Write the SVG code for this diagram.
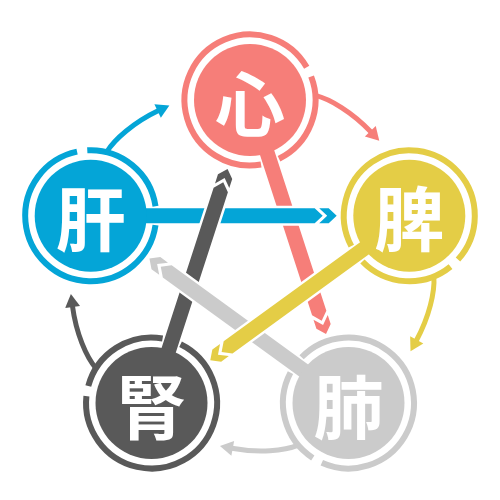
<svg xmlns="http://www.w3.org/2000/svg" width="500" height="500" viewBox="0 0 500 500">
<style>
.ring{fill:none;stroke-width:6}
.cv{fill:none;stroke-width:5}
.bar{stroke:#fff;stroke-width:5;stroke-linejoin:miter;paint-order:stroke}
.lbl{font-family:"Noto Sans CJK JP","Noto Sans CJK SC",sans-serif;font-size:70px;font-weight:700;fill:#fff;text-anchor:middle;dominant-baseline:central}
</style>
<defs>
<path id="bar" d="M0,-7.5H224L232,0L224,7.5H0Z M228.5,-7.5H238L246,0L238,7.5H228.5L236.5,0Z"/>
<path id="ringA" d="M306.72,67.25A65.5,65.5 0 1 0 261.04,164.56M279.02,158.72A65.5,65.5 0 0 0 311.15,76.53"/>
<path id="curve" d="M315.3,95.4C330,99 352,112 371,132"/>
<marker id="mR" markerUnits="userSpaceOnUse" markerWidth="20" markerHeight="20" viewBox="-2 -10 20 20" refX="1" refY="0" orient="auto"><path d="M0,-7.5L13,0L0,7.5Z" fill="#F67E79"/></marker>
<marker id="mY" markerUnits="userSpaceOnUse" markerWidth="20" markerHeight="20" viewBox="-2 -10 20 20" refX="1" refY="0" orient="auto"><path d="M0,-7.5L13,0L0,7.5Z" fill="#E4CD46"/></marker>
<marker id="mG" markerUnits="userSpaceOnUse" markerWidth="20" markerHeight="20" viewBox="-2 -10 20 20" refX="1" refY="0" orient="auto"><path d="M0,-7.5L13,0L0,7.5Z" fill="#CBCBCB"/></marker>
<marker id="mD" markerUnits="userSpaceOnUse" markerWidth="20" markerHeight="20" viewBox="-2 -10 20 20" refX="1" refY="0" orient="auto"><path d="M0,-7.5L13,0L0,7.5Z" fill="#595959"/></marker>
<marker id="mB" markerUnits="userSpaceOnUse" markerWidth="20" markerHeight="20" viewBox="-2 -10 20 20" refX="1" refY="0" orient="auto"><path d="M0,-7.5L13,0L0,7.5Z" fill="#04A5D7"/></marker>
</defs>
<g id="connectors">
 <g id="generating">
  <use href="#curve" class="cv" stroke="#F67E79" marker-end="url(#mR)"/>
  <use href="#curve" class="cv" stroke="#E4CD46" marker-end="url(#mY)" transform="rotate(72 250 267.5)"/>
  <use href="#curve" class="cv" stroke="#CBCBCB" marker-end="url(#mG)" transform="rotate(144 250 267.5)"/>
  <use href="#curve" class="cv" stroke="#595959" marker-end="url(#mD)" transform="rotate(216 250 267.5)"/>
  <use href="#curve" class="cv" stroke="#04A5D7" marker-end="url(#mB)" transform="rotate(288 250 267.5)"/>
 </g>
 <g id="controlling">
  <use href="#bar" class="bar" fill="#F67E79" transform="translate(250 100) rotate(72)"/>
  <use href="#bar" class="bar" fill="#04A5D7" transform="rotate(288 250 267.5) translate(250 100) rotate(72)"/>
  <use href="#bar" class="bar" fill="#595959" transform="rotate(216 250 267.5) translate(250 100) rotate(72)"/>
  <use href="#bar" class="bar" fill="#CBCBCB" transform="rotate(144 250 267.5) translate(250 100) rotate(72)"/>
  <use href="#bar" class="bar" fill="#E4CD46" transform="rotate(72 250 267.5) translate(250 100) rotate(72)"/>
 </g>
</g>
<g id="xin">
 <use href="#ringA" class="ring" stroke="#F67E79"/>
 <circle cx="250" cy="100" r="56" fill="#F67E79"/>
 <text class="lbl" x="250" y="100">心</text>
</g>
<g id="pi">
 <use href="#ringA" class="ring" stroke="#E4CD46" transform="rotate(72 250 267.5)"/>
 <circle cx="409.3" cy="215.7" r="56" fill="#E4CD46"/>
 <text class="lbl" x="409.3" y="215.7">脾</text>
</g>
<g id="fei">
 <use href="#ringA" class="ring" stroke="#CBCBCB" transform="rotate(144 250 267.5)"/>
 <circle cx="348.5" cy="403" r="56" fill="#CBCBCB"/>
 <text class="lbl" x="348.5" y="403">肺</text>
</g>
<g id="shen">
 <use href="#ringA" class="ring" stroke="#595959" transform="rotate(216 250 267.5)"/>
 <circle cx="151.5" cy="403" r="56" fill="#595959"/>
 <text class="lbl" x="151.5" y="403">腎</text>
</g>
<g id="gan">
 <use href="#ringA" class="ring" stroke="#04A5D7" transform="rotate(288 250 267.5)"/>
 <circle cx="90.7" cy="215.7" r="56" fill="#04A5D7"/>
 <text class="lbl" x="90.7" y="215.7">肝</text>
</g>
</svg>
